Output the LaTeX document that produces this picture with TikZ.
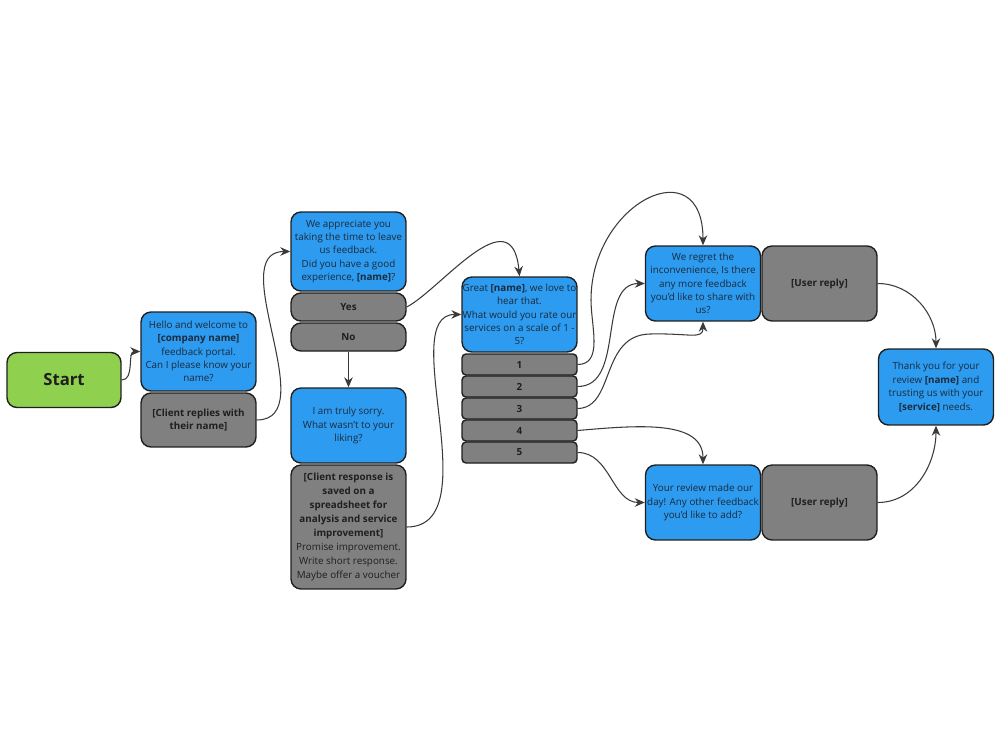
\documentclass[tikz,border=0pt]{standalone}
\usepackage{fontspec}
\setmainfont{Open Sans}
\usepackage{xcolor}
\usetikzlibrary{arrows.meta,positioning}
\definecolor{nodeblue}{HTML}{2D9BF0}
\definecolor{nodegray}{HTML}{808080}
\definecolor{nodegreen}{HTML}{8FD14F}
\definecolor{edgeline}{HTML}{1F1F1F}
\definecolor{linkgray}{HTML}{3A3A3A}
\definecolor{bluetext}{HTML}{1B2B3B}

\begin{document}
\begin{tikzpicture}[x=0.02cm, y=-0.02cm,
  every node/.style={draw=edgeline, line width=0.8pt, rounded corners=0.2cm, align=center, inner sep=0pt, text=black!88, font=\fontsize{5.6}{7.6}\selectfont},
  bluebox/.style={fill=nodeblue, text=bluetext, minimum width=2.3cm, minimum height=1.5cm},
  graybox/.style={fill=nodegray, minimum width=2.3cm, font=\fontsize{5.6}{7.6}\selectfont\bfseries},
  option/.style={graybox, minimum height=0.42cm, rounded corners=0.08cm},
  arrow/.style={-{Stealth[length=2mm,width=1.7mm]}, draw=linkgray, line width=0.6pt}
]
  \useasboundingbox (0,0) rectangle (1000,750);

  \node[fill=nodegreen, minimum width=2.28cm, minimum height=1.1cm, font=\fontsize{9.5}{11}\selectfont\bfseries] (start) at (64,380) {Start};
  \node[bluebox, minimum height=1.58cm] (hello) at (198.5,351.5) {Hello and welcome to\\\textbf{[company name]}\\feedback portal.\\Can I please know your\\name?};
  \node[graybox, minimum height=1.08cm] (clientname) at (198.5,420) {[Client replies with\\their name]};

  \node[bluebox, minimum height=1.58cm] (appreciate) at (348.5,251.5) {We appreciate you\\taking the time to leave\\us feedback.\\Did you have a good\\experience, \textbf{[name]}?};
  \node[graybox, minimum height=0.56cm] (yes) at (348.5,307) {Yes};
  \node[graybox, minimum height=0.56cm] (no) at (348.5,337) {No};
  \node[bluebox] (sorry) at (348.5,425.5) {I am truly sorry.\\What wasn't to your\\liking?};
  \node[graybox, minimum height=2.48cm, font=\fontsize{5.6}{7.9}\selectfont] (response) at (348.5,527) {\textbf{[Client response is}\\\textbf{saved on a}\\\textbf{spreadsheet for}\\\textbf{analysis and service}\\\textbf{improvement]}\\Promise improvement.\\Write short response.\\Maybe offer a voucher};

  \node[bluebox] (great) at (519.5,314.5) {Great \textbf{[name]}, we love to\\hear that.\\What would you rate our\\services on a scale of 1 -\\5?};
  \node[option] (r1) at (519.5,364.5) {1};
  \node[option] (r2) at (519.5,386.5) {2};
  \node[option] (r3) at (519.5,408.5) {3};
  \node[option] (r4) at (519.5,430.5) {4};
  \node[option] (r5) at (519.5,452.5) {5};

  \node[bluebox] (regret) at (703,283.5) {We regret the\\inconvenience, Is there\\any more feedback\\you'd like to share with\\us?};
  \node[graybox, minimum height=1.5cm] (reply1) at (819.5,283.5) {[User reply]};
  \node[bluebox] (review) at (703,502.5) {Your review made our\\day! Any other feedback\\you'd like to add?};
  \node[graybox, minimum height=1.5cm] (reply2) at (819.5,502.5) {[User reply]};
  \node[bluebox, minimum height=1.52cm] (thanks) at (936,387) {Thank you for your\\review \textbf{[name]} and\\trusting us with your\\\textbf{[service]} needs.};

  \draw[arrow] (start.east) to[out=0,in=180] (hello.west);
  \draw[arrow] (clientname.east) to[out=0,in=180] (appreciate.west);
  \draw[arrow] (yes.east) .. controls (440,290) and (512,195) .. (great.north);
  \draw[arrow] (no.south) -- (sorry.north);
  \draw[arrow] (response.east) .. controls (490,527) and (395,314) .. (great.west);
  \draw[arrow] (r1.east) to[out=0,in=-90] (591,300) to[out=90,in=90,looseness=2] (regret.north);
  \draw[arrow] (r2.east) to[out=0,in=180] (regret.west);
  \draw[arrow] (r3.east) .. controls (615,408) and (600,335) .. (650,334) .. controls (690,333) and (703,340) .. (regret.south);
  \draw[arrow] (r4.east) .. controls (640,425) and (703,420) .. (review.north);
  \draw[arrow] (r5.east) to[out=0,in=180] (review.west);
  \draw[arrow] (reply1.east) to[out=0,in=90] (thanks.north);
  \draw[arrow] (reply2.east) to[out=0,in=-90] (thanks.south);
\end{tikzpicture}
\end{document}
